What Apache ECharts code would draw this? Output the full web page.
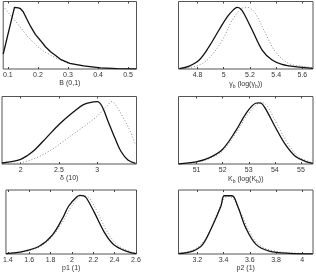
<!DOCTYPE html>
<html><head><meta charset="utf-8">
<script src="https://cdn.jsdelivr.net/npm/echarts@6/dist/echarts.min.js"></script>
<style>html,body{margin:0;padding:0;background:#fff}#c{width:316px;height:273px}</style>
</head><body><div id="c"></div>
<script>
// Panel 1: B (0,1)
const bPost = [[0.0845,0.222],[0.122,0.914],[0.135,0.905],[0.142,0.893],[0.151,0.849],[0.163,0.74],[0.176,0.627],[0.192,0.51],[0.209,0.419],[0.225,0.33],[0.242,0.255],[0.26,0.195],[0.275,0.144],[0.306,0.084],[0.353,0.045],[0.408,0.018],[0.463,0.006],[0.528,0.003]];
const bPrior = [[0.09,0.899],[0.122,0.726],[0.145,0.6],[0.166,0.479],[0.199,0.331],[0.221,0.256],[0.245,0.2],[0.26,0.165],[0.3,0.085],[0.35,0.042],[0.4,0.018],[0.46,0.006],[0.528,0.002]];
const bTicks = [0.1,0.2,0.3,0.4,0.5];
// Panel 2: gamma_b
const gPost = [[4.661,0.004],[4.737,0.044],[4.813,0.133],[4.888,0.331],[4.964,0.578],[5.028,0.775],[5.075,0.88],[5.103,0.914],[5.13,0.89],[5.153,0.825],[5.217,0.578],[5.293,0.281],[5.369,0.133],[5.444,0.07],[5.545,0.034],[5.68,0.01]];
const gPrior = [[4.66,0.005],[4.74,0.02],[4.813,0.06],[4.888,0.159],[4.99,0.43],[5.066,0.726],[5.141,0.9],[5.179,0.914],[5.21,0.89],[5.242,0.825],[5.318,0.53],[5.394,0.256],[5.494,0.084],[5.6,0.04],[5.68,0.02]];
const gTicks = [4.8,5,5.2,5.4,5.6];
// Panel 3: delta
const dPost = [[1.756,0.015],[1.9,0.04],[2.0,0.07],[2.08,0.12],[2.17,0.195],[2.34,0.395],[2.51,0.595],[2.687,0.77],[2.82,0.88],[2.95,0.92],[3.0,0.925],[3.06,0.86],[3.14,0.635],[3.23,0.385],[3.31,0.185],[3.4,0.06],[3.5,0.01]];
const dPrior = [[1.756,0.0],[2.0,0.02],[2.2,0.09],[2.38,0.195],[2.6,0.37],[2.645,0.41],[2.82,0.55],[2.99,0.70],[3.06,0.78],[3.12,0.85],[3.19,0.925],[3.23,0.89],[3.34,0.685],[3.43,0.485],[3.5,0.285]];
const dTicks = [2,2.5,3];
// Panel 4: K_b
const kPost = [[50.31,0.0],[50.98,0.03],[51.48,0.09],[51.99,0.215],[52.5,0.49],[52.88,0.74],[53.26,0.9],[53.38,0.905],[53.48,0.9],[53.64,0.82],[54.02,0.545],[54.4,0.29],[54.78,0.115],[55.16,0.04],[55.45,0.01]];
const kPrior = [[50.31,0.0],[50.98,0.025],[51.48,0.08],[51.99,0.19],[52.5,0.45],[52.9,0.7],[53.3,0.88],[53.51,0.91],[53.7,0.86],[54.14,0.545],[54.52,0.29],[54.9,0.11],[55.4,0.02]];
const kTicks = [51,52,53,54,55];
// Panel 5: p1
const p1Post = [[1.382,0.005],[1.546,0.04],[1.697,0.125],[1.818,0.3],[1.91,0.55],[1.97,0.75],[2.045,0.89],[2.075,0.915],[2.11,0.91],[2.136,0.875],[2.21,0.65],[2.3,0.35],[2.39,0.15],[2.515,0.04],[2.6,0.005]];
const p1Prior = [[1.382,0.005],[1.546,0.035],[1.697,0.11],[1.83,0.3],[1.93,0.55],[1.99,0.73],[2.07,0.89],[2.1,0.915],[2.14,0.9],[2.17,0.86],[2.24,0.65],[2.33,0.35],[2.42,0.15],[2.54,0.04],[2.6,0.01]];
const p1Ticks = [1.4,1.6,1.8,2,2.2,2.4,2.6];
// Panel 6: p2
const p2Post = [[3.056,0.005],[3.165,0.045],[3.241,0.15],[3.317,0.45],[3.38,0.75],[3.405,0.91],[3.464,0.91],[3.507,0.75],[3.571,0.4],[3.647,0.15],[3.748,0.045],[3.9,0.01],[4.08,0.003]];
const p2Prior = [[3.056,0.01],[3.165,0.06],[3.241,0.18],[3.3,0.38],[3.36,0.68],[3.41,0.88],[3.44,0.9],[3.48,0.85],[3.53,0.65],[3.61,0.3],[3.68,0.13],[3.78,0.05],[3.9,0.02],[4.08,0.005]];
const p2Ticks = [3.2,3.4,3.6,3.8,4];

const panels = [
  {post:bPost, prior:bPrior, ticks:bTicks, min:0.0845, max:0.528, name:'B (0,1)', smooth:false},
  {post:gPost, prior:gPrior, ticks:gTicks, min:4.655, max:5.681, name:'γ{s|b} (log(γ{s|b}))', smooth:0.35},
  {post:dPost, prior:dPrior, ticks:dTicks, min:1.756, max:3.512, name:'δ (10)', smooth:0.35},
  {post:kPost, prior:kPrior, ticks:kTicks, min:50.31, max:55.46, name:'K{s|b} (log(K{s|b}))', smooth:0.35},
  {post:p1Post, prior:p1Prior, ticks:p1Ticks, min:1.382, max:2.605, name:'p1 (1)', smooth:0.35},
  {post:p2Post, prior:p2Prior, ticks:p2Ticks, min:3.056, max:4.082, name:'p2 (1)', smooth:0.35}
];
const lefts = [2, 178.5];
const tops = [1.5, 96.5, 190];
const font = 'Liberation Sans, Arial, sans-serif';
const grid=[], xAxis=[], yAxis=[], series=[];
panels.forEach((p,i)=>{
  const col=i%2, row=Math.floor(i/2);
  grid.push({left:lefts[col], top:tops[row], width:134.5, height:67.5, show:true, borderColor:'#555', borderWidth:1, backgroundColor:'#fff'});
  xAxis.push({gridIndex:i, type:'value', min:p.min, max:p.max, position:'bottom',
    axisLine:{show:false}, splitLine:{show:false},
    axisTick:{show:true, inside:true, length:2, customValues:p.ticks, lineStyle:{color:'#444'}},
    axisLabel:{show:true, customValues:p.ticks, fontSize:7, color:'#333', margin:3, fontFamily:font},
    name:p.name, nameLocation:'middle', nameGap:11,
    nameTextStyle:{fontSize:7, color:'#333', fontFamily:font, rich:{s:{fontSize:5, verticalAlign:'bottom', padding:[4,0,0,0], color:'#333', fontFamily:font}}}
  });
  xAxis.push({gridIndex:i, type:'value', min:p.min, max:p.max, position:'top',
    axisLine:{show:false}, splitLine:{show:false}, axisLabel:{show:false},
    axisTick:{show:true, inside:true, length:2, customValues:p.ticks, lineStyle:{color:'#444'}}
  });
  yAxis.push({gridIndex:i, type:'value', min:0, max:1, axisLine:{show:false}, axisTick:{show:false}, axisLabel:{show:false}, splitLine:{show:false}});
  series.push({type:'line', xAxisIndex:2*i, yAxisIndex:i, data:p.prior, showSymbol:false, smooth:p.smooth,
    lineStyle:{color:'#8a8a8a', width:1, type:[1,2]}, silent:true, animation:false});
  series.push({type:'line', xAxisIndex:2*i, yAxisIndex:i, data:p.post, showSymbol:false, smooth:p.smooth,
    lineStyle:{color:'#111', width:1.3}, silent:true, animation:false});
});
const chart = echarts.init(document.getElementById('c'), null, {renderer:'canvas'});
chart.setOption({animation:false, grid, xAxis, yAxis, series});
</script></body></html>
